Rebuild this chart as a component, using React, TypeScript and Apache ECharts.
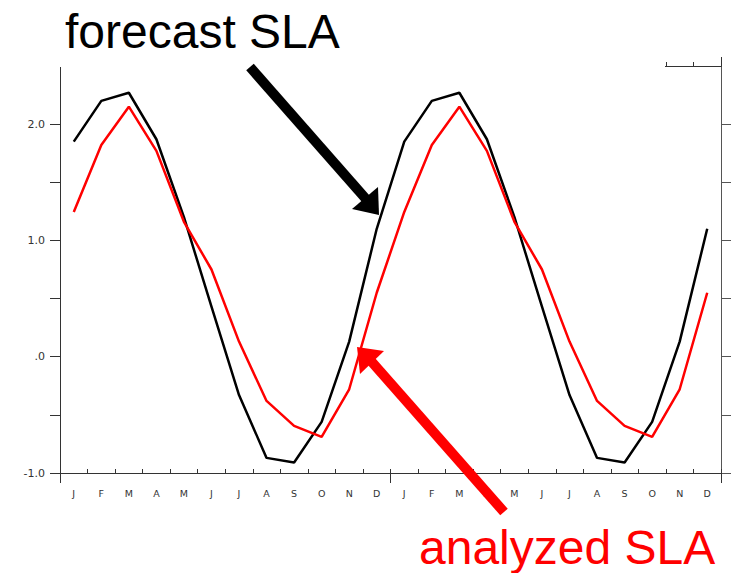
import React, { useEffect, useRef } from "react";
import * as echarts from "echarts";

const months = ["J","F","M","A","M","J","J","A","S","O","N","D","J","F","M","A","M","J","J","A","S","O","N","D"];
const forecastSLA = [1.85, 2.2, 2.27, 1.87, 1.2, 0.43, -0.33, -0.87, -0.91, -0.56, 0.13, 1.1,
  1.85, 2.2, 2.27, 1.87, 1.2, 0.43, -0.33, -0.87, -0.91, -0.56, 0.13, 1.1];
const analyzedSLA = [1.245, 1.82, 2.15, 1.77, 1.16, 0.75, 0.13, -0.38, -0.595, -0.69, -0.28, 0.55,
  1.245, 1.82, 2.15, 1.77, 1.16, 0.75, 0.13, -0.38, -0.595, -0.69, -0.28, 0.55];
const yTickValues = [-1, -0.5, 0, 0.5, 1, 1.5, 2];
const yLabelValues = [-1, 0, 1, 2];

const fmtY = (v: number) => {
  if (v === 0) return ".0";
  return v.toFixed(1);
};

export default function App() {
  const ref = useRef<HTMLDivElement>(null);
  useEffect(() => {
    if (!ref.current) return;
    const chart = echarts.init(ref.current, null, { renderer: "svg" });
    const axisCol = "#333";
    chart.setOption({
      animation: false,
      backgroundColor: "#fff",
      grid: { left: 60, right: 10, top: 66, bottom: 100 },
      xAxis: [
        {
          type: "category", data: months, position: "bottom", boundaryGap: true,
          axisLine: { show: true, onZero: false, lineStyle: { color: axisCol, width: 1 } },
          axisTick: { show: true, inside: true, length: 4, interval: 0, lineStyle: { color: axisCol, width: 1 } },
          axisLabel: { show: true, interval: 0, margin: 15, fontSize: 9.5, fontFamily: "DejaVu Sans", color: "#333" },
          splitLine: { show: false },
        },
        {
          type: "value", min: 0, max: 24, interval: 12, position: "bottom",
          axisLine: { show: true, onZero: false, lineStyle: { color: axisCol, width: 1 } },
          axisTick: { show: true, inside: false, length: 10, lineStyle: { color: axisCol } },
          axisLabel: { show: false }, splitLine: { show: false },
        },
        {
          type: "category", data: months, position: "top", boundaryGap: true,
          axisLine: { show: true, onZero: false, lineStyle: { color: axisCol, width: 1 } },
          axisTick: { show: true, inside: false, length: 4, interval: 0, lineStyle: { color: axisCol, width: 1 } },
          axisLabel: { show: false }, splitLine: { show: false },
        },
        {
          type: "value", min: 0, max: 24, interval: 12, position: "top",
          axisLine: { show: true, onZero: false, lineStyle: { color: axisCol, width: 1 } },
          axisTick: { show: true, inside: false, length: 9, lineStyle: { color: axisCol } },
          axisLabel: { show: false }, splitLine: { show: false },
        },
      ],
      yAxis: [
        {
          type: "value", min: -1, max: 2.5, interval: 0.5, position: "left",
          axisLine: { show: true, onZero: false, lineStyle: { color: axisCol, width: 1 } },
          axisTick: { show: true, inside: false, length: 10, customValues: yTickValues, lineStyle: { color: axisCol } },
          axisLabel: { margin: 15, fontSize: 11, fontFamily: "DejaVu Sans", color: "#333", customValues: yLabelValues, formatter: fmtY },
          splitLine: { show: false },
        },
        {
          type: "value", min: -1, max: 2.5, interval: 0.5, position: "right",
          axisLine: { show: true, onZero: false, lineStyle: { color: "#555", width: 1 } },
          axisTick: { show: true, inside: false, length: 10, customValues: yTickValues, lineStyle: { color: "#555" } },
          axisLabel: { show: false }, splitLine: { show: false },
        },
      ],
      series: [
        {
          type: "line", name: "forecast SLA", data: forecastSLA, xAxisIndex: 0, yAxisIndex: 0,
          symbol: "none", lineStyle: { color: "#000", width: 2.5 }, z: 3,
        },
        {
          type: "line", name: "analyzed SLA", data: analyzedSLA, xAxisIndex: 0, yAxisIndex: 0,
          symbol: "none", lineStyle: { color: "#ff0000", width: 2.5 }, z: 4,
        },
      ],
      graphic: [
        { type: "rect", z: 90, shape: { x: 0, y: 0, width: 665, height: 67 }, style: { fill: "#fff" } },
        {
          type: "text", z: 100, x: 65, y: 31,
          style: { text: "forecast SLA", fill: "#000", font: "48px 'Liberation Sans', Arial, sans-serif", textAlign: "left", textVerticalAlign: "middle" },
        },
        { type: "line", z: 100, shape: { x1: 250, y1: 67, x2: 366, y2: 199 }, style: { stroke: "#000", lineWidth: 10 } },
        { type: "polygon", z: 100, shape: { points: [[378, 187], [379, 215], [352, 209]] }, style: { fill: "#000" } },
        { type: "line", z: 100, shape: { x1: 371, y1: 361, x2: 504, y2: 512 }, style: { stroke: "#ff0000", lineWidth: 10 } },
        { type: "polygon", z: 100, shape: { points: [[357, 347], [384, 351], [360, 374]] }, style: { fill: "#ff0000" } },
        {
          type: "text", z: 100, x: 419, y: 547,
          style: { text: "analyzed SLA", fill: "#ff0000", font: "48px 'Liberation Sans', Arial, sans-serif", textAlign: "left", textVerticalAlign: "middle" },
        },
      ],
    });
    return () => chart.dispose();
  }, []);
  return <div ref={ref} style={{ width: 731, height: 573, position: "absolute", left: 0, top: 0 }} />;
}
